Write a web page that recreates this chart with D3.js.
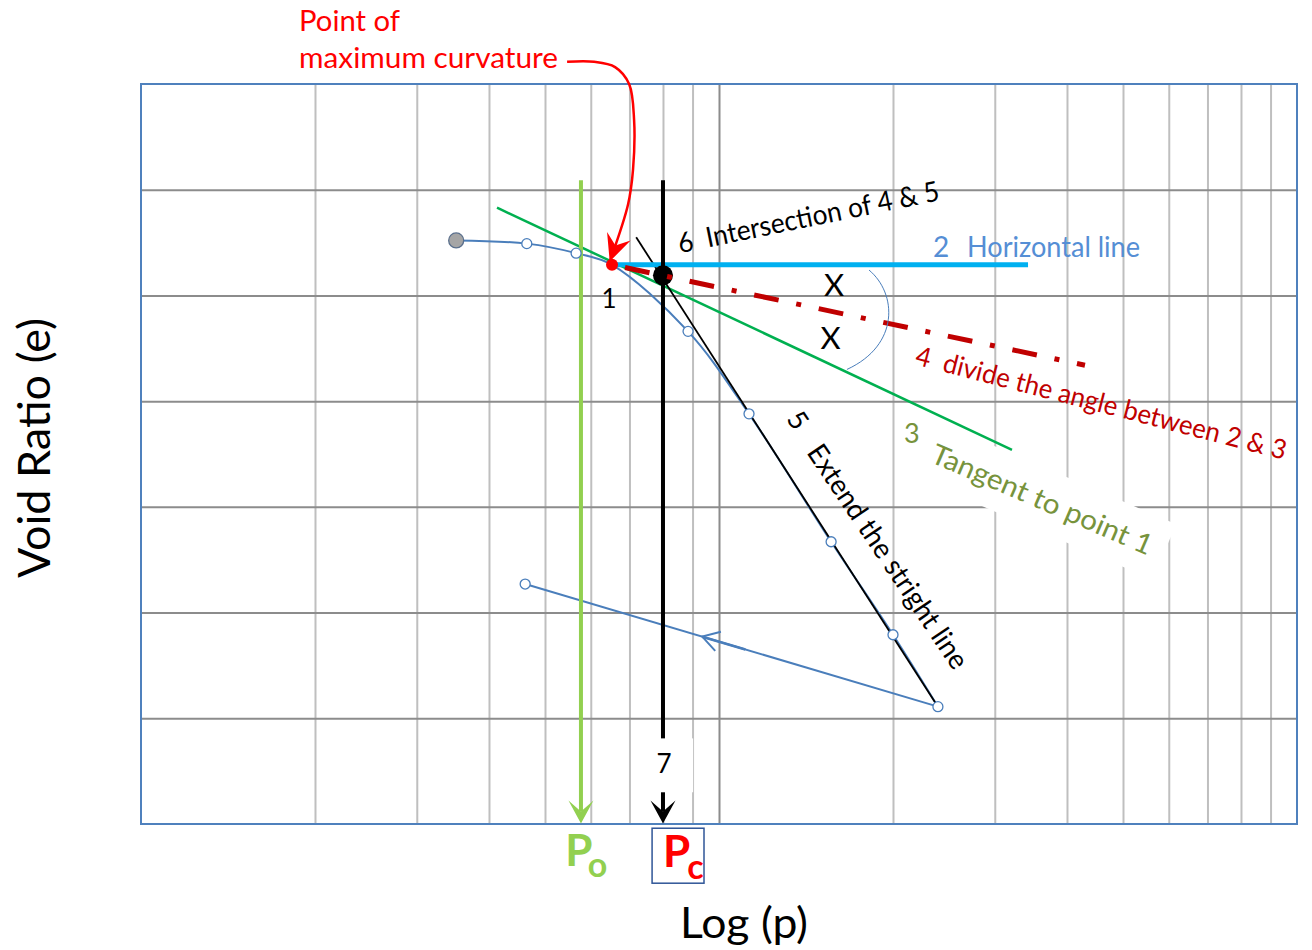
<!DOCTYPE html>
<html><head><meta charset="utf-8">
<script src="https://cdn.jsdelivr.net/npm/d3@7"></script>
<style>
body{margin:0;background:#fff}
svg{display:block}
text{font-family:Lato,"Open Sans",sans-serif}
</style>
</head><body>
<svg id="c" width="1312" height="950"></svg>
<script>
// ---------------- data ----------------
const xGridTicks = [20,30,40,50,60,70,80,90,100,200,300,400,500,600,700,800,900];
const xMajorTicks = [100];
const yGridTicks = [0.5,0.6,0.7,0.8,0.9,1.0];
// consolidation test points (loading branch)
const testP = [35.1, 46.5, 56.6, 88.4, 112.7, 156.3, 200, 239.2];
const testE = [0.952, 0.949, 0.940, 0.866, 0.788, 0.667, 0.579, 0.511];
// point of maximum curvature (point 1)
const maxCurvP = 65.3, maxCurvE = 0.929;
// unloading branch
const unloadP = [239.2, 46.2];
const unloadE = [0.511, 0.627];
// construction lines
const tangentP = [41.3, 321.3],  tangentE = [0.983, 0.754];
const horizP   = [65.3, 342.5],  horizE   = [0.929, 0.929];
const bisectP  = [65.3, 429.7],  bisectE  = [0.929, 0.834];
const straightP= [71.9, 239.2],  straightE= [0.955, 0.511];
const intersectP = 80.0, intersectE = 0.919;
const P0 = 57.7, PC = 80.0, verticalTopE = 1.009;
// leader arrow from "Point of maximum curvature"
const leaderP = [54.6, 60.8, 66.1, 69.9, 71.3, 71.0, 69.6, 64.7];
const leaderE = [1.121, 1.121, 1.116, 1.100, 1.066, 1.019, 0.986, 0.932];

// ---------------- setup ----------------
const svg = d3.select('#c');
const L = 141, R = 1297, T = 84, B = 824;
const x = d3.scaleLog().domain([10, 1000]).range([L, R]);
const y = d3.scaleLinear().domain([0.4, 1.1]).range([B, T]);
const pts = (P, E) => P.map((p, i) => ({p, e: E[i]}));
const line = d3.line().x(d => x(d.p)).y(d => y(d.e));

function fit(t, target) {
  t.attr('textLength', target).attr('lengthAdjust', 'spacingAndGlyphs');
}

// ---------------- grid ----------------
const gx = svg.append('g').attr('transform', `translate(0,${B})`)
  .call(d3.axisBottom(x).tickValues(xGridTicks).tickSize(-(B - T)).tickFormat(''));
gx.select('.domain').remove();
gx.selectAll('.tick line')
  .attr('stroke', d => xMajorTicks.includes(d) ? '#8c8c8c' : '#bfbfbf')
  .attr('stroke-width', 2);
const gy = svg.append('g').attr('transform', `translate(${L},0)`)
  .call(d3.axisLeft(y).tickValues(yGridTicks).tickSize(-(R - L)).tickFormat(''));
gy.select('.domain').remove();
gy.selectAll('.tick line').attr('stroke', '#8c8c8c').attr('stroke-width', 2);

// ---------------- label with white box: "Tangent to point 1" ----------------
const tanG = svg.append('g')
  .attr('transform', `translate(${x(230.8)},${y(0.743)}) rotate(23.3)`);
const tanW = 238;
tanG.append('rect').attr('fill', '#fff')
  .attr('x', -12).attr('y', -40).attr('width', tanW + 26).attr('height', 60);
const tanT = tanG.append('text').attr('font-size', 28).attr('fill', '#77933c')
  .text('Tangent to point 1');
fit(tanT, tanW);

// border
svg.append('rect').attr('x', L).attr('y', T).attr('width', R - L).attr('height', B - T)
  .attr('fill', 'none').attr('stroke', '#4f81bd').attr('stroke-width', 2);

// ---------------- curve ----------------
const blue = '#4a7ebb';
const curvePts = pts(testP, testE).concat([{p: maxCurvP, e: maxCurvE}]).sort((a, b) => a.p - b.p);
svg.append('path').attr('d', line.curve(d3.curveCatmullRom.alpha(0.5))(curvePts))
  .attr('fill', 'none').attr('stroke', blue).attr('stroke-width', 2);
line.curve(d3.curveLinear);
const un = pts(unloadP, unloadE);
svg.append('path').attr('d', line(un)).attr('fill', 'none').attr('stroke', blue).attr('stroke-width', 2);
// open arrow on unloading branch
{
  const x1 = x(un[0].p), y1 = y(un[0].e), x2 = x(un[1].p), y2 = y(un[1].e);
  const f = 0.571;
  const ax = x1 + (x2 - x1) * f, ay = y1 + (y2 - y1) * f;
  const ang = Math.atan2(y1 - y2, x1 - x2) * 180 / Math.PI;
  const g = svg.append('g').attr('transform', `translate(${ax},${ay}) rotate(${ang})`);
  g.append('path').attr('d', 'M16.5,-10 L0,0 L16.5,10').attr('fill', 'none')
    .attr('stroke', blue).attr('stroke-width', 2);
  g.append('line').attr('x1', 0).attr('x2', 45).attr('y1', 0).attr('y2', 0)
    .attr('stroke', blue).attr('stroke-width', 2.6);
}

// tangent (3)
svg.append('path').attr('d', line(pts(tangentP, tangentE)))
  .attr('stroke', '#00b050').attr('stroke-width', 2.5).attr('fill', 'none');
// extended straight line (5)
svg.append('path').attr('d', line(pts(straightP, straightE)))
  .attr('stroke', '#000').attr('stroke-width', 1.8).attr('fill', 'none');
// horizontal (2)
svg.append('path').attr('d', line(pts(horizP, horizE)))
  .attr('stroke', '#00b0f0').attr('stroke-width', 5).attr('fill', 'none');

// vertical arrows
function vArrow(p, color) {
  const xx = x(p), tip = y(0.4) - 0.5;
  svg.append('line').attr('x1', xx).attr('x2', xx).attr('y1', y(verticalTopE)).attr('y2', tip - 12)
    .attr('stroke', color).attr('stroke-width', 4);
  svg.append('path')
    .attr('d', `M${xx},${tip} L${xx - 12.5},${tip - 23} L${xx},${tip - 12} L${xx + 12.5},${tip - 23} Z`)
    .attr('fill', color);
}
vArrow(P0, '#92d050');
vArrow(PC, '#000');

// intersection dot (6)
svg.append('circle').attr('cx', x(intersectP)).attr('cy', y(intersectE)).attr('r', 10).attr('fill', '#000');

// bisector (4)
svg.append('path').attr('d', line(pts(bisectP, bisectE)))
  .attr('stroke', '#c00000').attr('stroke-width', 5).attr('fill', 'none')
  .attr('stroke-dasharray', '25 18 5 18').attr('stroke-dashoffset', 52.7);

// point 1
svg.append('circle').attr('cx', x(maxCurvP)).attr('cy', y(maxCurvE)).attr('r', 6).attr('fill', '#ff0000');

// markers
svg.selectAll('circle.pt').data(pts(testP, testE).concat([un[1]])).join('circle')
  .attr('class', 'pt')
  .attr('cx', d => x(d.p)).attr('cy', d => y(d.e))
  .attr('r', (d, i) => i === 0 ? 7.5 : 5)
  .attr('fill', (d, i) => i === 0 ? '#a5a5a5' : '#fff')
  .attr('stroke', (d, i) => i === 0 ? '#5a6f8c' : blue)
  .attr('stroke-width', 1.3);

// angle arc
svg.append('path')
  .attr('d', `M${x(181.8)},${y(0.924)} C${x(203.2)},${y(0.902)} ${x(205.6)},${y(0.853)} ${x(166.5)},${y(0.830)}`)
  .attr('fill', 'none').attr('stroke', blue).attr('stroke-width', 1);

// "7" with white box
svg.append('rect').attr('x', x(71.0)).attr('y', y(0.481))
  .attr('width', x(90.2) - x(71.0)).attr('height', y(0.430) - y(0.481)).attr('fill', '#fff');
svg.append('text').attr('x', x(80.3)).attr('y', y(0.448)).attr('font-size', 26)
  .attr('text-anchor', 'middle').attr('fill', '#000').text('7');

// ---------------- text labels ----------------
function label(o) {
  const t = svg.append('text')
    .attr('transform', `translate(${x(o.p)},${y(o.e)}) rotate(${o.rot || 0})`)
    .attr('font-size', o.size).attr('fill', o.color)
    .attr('font-weight', o.bold ? 700 : 400)
    .attr('text-anchor', o.anchor || 'start')
    .attr('dy', o.dy || 0)
    .style('white-space', 'pre').text(o.text);
  if (o.width) fit(t, o.width);
  return t;
}
label({text: 'Point of', p: 18.77, e: 1.150, size: 28, color: '#ff0000', width: 101});
label({text: 'maximum curvature', p: 18.77, e: 1.115, size: 28, color: '#ff0000', width: 259});
label({text: '1', p: 64.5, e: 0.888, size: 26, color: '#000', anchor: 'middle'});
label({text: '6  Intersection of 4 & 5', p: 85.6, e: 0.940, rot: -11.5, size: 28, color: '#000', width: 266});
label({text: '2', p: 234.5, e: 0.936, size: 28, color: '#558ed5'});
label({text: 'Horizontal line', p: 268.6, e: 0.936, size: 28, color: '#558ed5', width: 173});
label({text: 'X', p: 158.1, e: 0.899, size: 31, color: '#000', anchor: 'middle'});
label({text: 'X', p: 155.9, e: 0.849, size: 31, color: '#000', anchor: 'middle'});
label({text: '4  divide the angle between 2 & 3', p: 217.5, e: 0.835, rot: 14.5, size: 27, color: '#c00000', width: 382});
label({text: '3', p: 208.9, e: 0.760, size: 27, color: '#77933c'});
label({text: '5', p: 137.0, e: 0.782, rot: 56, size: 27, color: '#000', anchor: 'middle', dy: '0.35em'});
label({text: 'Extend the stright line', p: 196.1, e: 0.653, rot: 56, size: 28, color: '#000', anchor: 'middle', dy: '0.35em', width: 264});

// P0 / Pc
label({text: 'P', p: 54.2, e: 0.360, size: 44, color: '#92d050', bold: true});
label({text: 'o', p: 59.3, e: 0.350, size: 34, color: '#92d050', bold: true});
svg.append('rect').attr('x', x(76.6)).attr('y', y(0.396))
  .attr('width', x(94.2) - x(76.6)).attr('height', y(0.344) - y(0.396))
  .attr('fill', 'none').attr('stroke', '#2f5597').attr('stroke-width', 1.5);
label({text: 'P', p: 80.0, e: 0.359, size: 44, color: '#ff0000', bold: true});
label({text: 'c', p: 88.1, e: 0.348, size: 34, color: '#ff0000', bold: true});

// leader arrow
svg.append('defs').append('marker').attr('id', 'ah')
  .attr('markerUnits', 'userSpaceOnUse').attr('orient', 'auto')
  .attr('markerWidth', 30).attr('markerHeight', 30).attr('refX', 0).attr('refY', 0)
  .attr('viewBox', '-28 -14 30 28')
  .append('path').attr('d', 'M0,0 L-27,-12.5 L-17,0 L-27,12.5 Z').attr('fill', '#ff0000');
svg.append('path').attr('d', d3.line().x(d => x(d.p)).y(d => y(d.e)).curve(d3.curveCatmullRom.alpha(0.5))(pts(leaderP, leaderE)))
  .attr('fill', 'none').attr('stroke', '#ff0000').attr('stroke-width', 2.5)
  .attr('marker-end', 'url(#ah)');

// axis titles
const yt = svg.append('text').attr('transform', `translate(50,448) rotate(-90)`)
  .attr('text-anchor', 'middle').attr('font-size', 44).attr('fill', '#000').text('Void Ratio (e)');
fit(yt, 260);
const xt = svg.append('text').attr('x', 744).attr('y', 938)
  .attr('text-anchor', 'middle').attr('font-size', 43).attr('fill', '#000').text('Log (p)');
fit(xt, 128);
</script>
</body></html>
